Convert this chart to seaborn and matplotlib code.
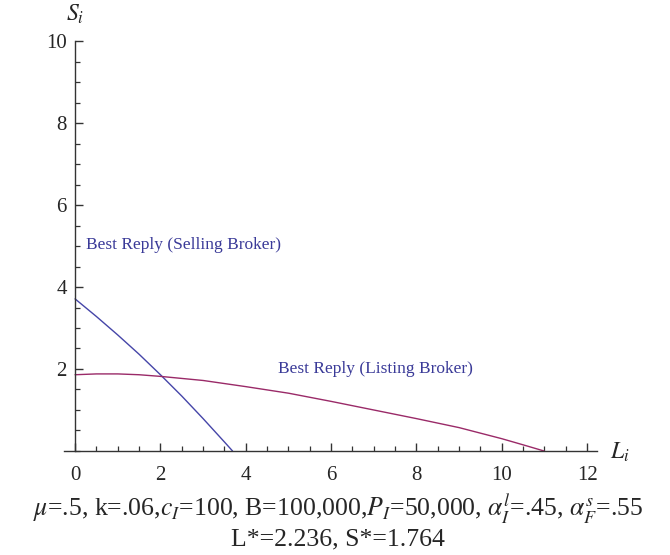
import matplotlib
matplotlib.use("Agg")
import matplotlib.pyplot as plt
from matplotlib.ticker import MultipleLocator
import seaborn as sns
import pandas as pd

# Best reply of the selling broker: S as a function of L
sell_L = [0.0, 0.5, 1.0, 1.5, 2.0, 2.5, 3.0, 3.5, 3.69]
sell_S = [3.71, 3.28, 2.83, 2.36, 1.86, 1.34, 0.79, 0.22, 0.0]

# Best reply of the listing broker
list_L = [0.0, 0.5, 1.0, 1.5, 2.0, 3.0, 4.0, 5.0, 6.0, 7.0, 8.0, 9.0, 10.0, 10.5, 10.99]
list_S = [1.86, 1.88, 1.88, 1.86, 1.82, 1.72, 1.57, 1.41, 1.21, 1.00, 0.79, 0.57, 0.30, 0.15, 0.0]

x_ticks = [0, 2, 4, 6, 8, 10, 12]
y_ticks = [2, 4, 6, 8, 10]

sell_label = "Best Reply (Selling Broker)"
list_label = "Best Reply (Listing Broker)"
caption_1 = (r"$\mu$=.5, k=.06,$c_I$=100, B=100,000,$P_I$=50,000, "
             r"$\alpha_I^l$=.45, $\alpha_F^s$=.55")
caption_2 = "L*=2.236, S*=1.764"

sns.set_style("ticks")
plt.rcParams["font.family"] = ["Liberation Serif", "DejaVu Serif"]
plt.rcParams["mathtext.fontset"] = "stix"

BLUE = "#4545a8"
MAROON = "#9a2a68"
TEXT_BLUE = "#3a3a98"

fig = plt.figure(figsize=(6.7, 5.55), dpi=100)
ax = fig.add_axes([0.0955, 0.1874, 0.7955, 0.7387])

sell_df = pd.DataFrame({"L": sell_L, "S": sell_S})
list_df = pd.DataFrame({"L": list_L, "S": list_S})
sns.lineplot(data=sell_df, x="L", y="S", ax=ax, color=BLUE, lw=1.0,
             sort=False, estimator=None)
sns.lineplot(data=list_df, x="L", y="S", ax=ax, color=MAROON, lw=1.0,
             sort=False, estimator=None)

ax.set_xlim(-0.26, 12.23)
ax.set_ylim(0, 10)
ax.set_xlabel("")
ax.set_ylabel("")

for side in ("top", "right"):
    ax.spines[side].set_visible(False)
ax.spines["left"].set_position(("data", 0))
ax.spines["bottom"].set_position(("data", 0))
for side in ("left", "bottom"):
    ax.spines[side].set_color("#333333")
    ax.spines[side].set_linewidth(1.0)

ax.set_xticks(x_ticks)
ax.set_yticks(y_ticks)
ax.xaxis.set_minor_locator(MultipleLocator(0.5))
ax.yaxis.set_minor_locator(MultipleLocator(0.5))
ax.tick_params(axis="both", which="major", direction="in", length=6,
               width=1.0, color="#333333", labelsize=15)
ax.tick_params(axis="both", which="minor", direction="in", length=3.5,
               width=0.9, color="#333333")
ax.tick_params(axis="x", which="major", pad=11)
ax.tick_params(axis="y", which="major", pad=6)

ax.text(0.26, 5.02, sell_label, color=TEXT_BLUE, fontsize=12.5,
        ha="left", va="center")
ax.text(4.76, 2.0, list_label, color=TEXT_BLUE, fontsize=12.5,
        ha="left", va="center")

ax.text(0.0, 10.65, r"$S_i$", fontsize=17, ha="center", va="center",
        clip_on=False)
ax.text(12.77, -0.03, r"$L_i$", fontsize=17, ha="center", va="center",
        clip_on=False)

fig.text(338 / 670, 1 - 517 / 555, caption_1, fontsize=18.5,
         ha="center", va="baseline")
fig.text(338 / 670, 1 - 545 / 555, caption_2, fontsize=18.5,
         ha="center", va="baseline")

fig.savefig("out.png", dpi=100)
